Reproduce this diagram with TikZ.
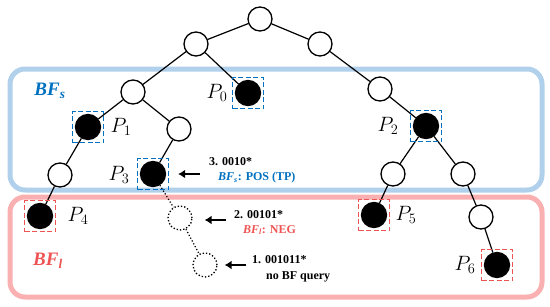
\documentclass[tikz,border=0pt]{standalone}
\usepackage{amsmath}
\usepackage{fontspec}
\setmainfont{Liberation Serif}
\usetikzlibrary{arrows.meta}

\begin{document}
\begin{tikzpicture}[x=1pt,y=-1pt,
 vtx/.style={circle,draw,line width=1.3pt,minimum size=24pt,inner sep=0pt,fill=white},
 leaf/.style={vtx,fill=black,minimum size=25pt},
 ghost/.style={vtx,dotted},
 hit/.style={draw=#1,line width=1.4pt,dash pattern=on 5pt off 2.5pt,
  minimum width=31pt,minimum height=31pt,inner sep=0pt},
 plab/.style={font=\fontsize{22}{22}\selectfont},
 bflab/.style={font=\fontsize{19}{19}\selectfont\bfseries\itshape},
 qtxt/.style={anchor=west,font=\fontsize{12}{12}\selectfont\bfseries,inner sep=0pt},
 qarrow/.style={-{Latex[length=7pt,width=9pt]},line width=2.5pt}]
\definecolor{bfsline}{RGB}{176,208,236}
\definecolor{bflline}{RGB}{250,176,176}
\definecolor{bfsblue}{RGB}{0,112,192}
\definecolor{bflred}{RGB}{238,84,84}
\useasboundingbox (0,0) rectangle (550,306);
% the two filter regions
\draw[bfsline,line width=5pt,rounded corners=15pt] (10,69) rectangle (542,190);
\draw[bflline,line width=5pt,rounded corners=15pt] (10,197) rectangle (542,297);
\node[bflab,text=bfsblue] (bfs) at (50,91) {BF\textsubscript{s}};
\node[bflab,text=bflred] (bfl) at (48,261) {BF\textsubscript{l}};

% tree
\node[vtx] (root) at (260,19) {};
\node[vtx] (l) at (196,44) {};
\node[vtx] (r) at (320,44) {};
\node[vtx] (ll) at (133,92) {};
\node[leaf] (p0) at (248,93) {};
\node[leaf] (p1) at (88,127) {};
\node[vtx] (llr) at (179,129) {};
\node[leaf] (p3) at (153,174) {};
\node[vtx] (p1c) at (60,175) {};
\node[leaf] (p4) at (40,216) {};
\node[vtx] (rr) at (380,89) {};
\node[leaf] (p2) at (426,126) {};
\node[vtx] (p2l) at (393,174) {};
\node[vtx] (p2r) at (463,174) {};
\node[leaf] (p5) at (374,215) {};
\node[vtx] (p2rc) at (481,217) {};
\node[leaf] (p6) at (497,265) {};
\node[ghost] (q1) at (180,218) {};
\node[ghost] (q2) at (205,265) {};
\draw[line width=1.2pt] (root) -- (l) (root) -- (r)
 (l) -- (ll) (l) -- (p0) (ll) -- (p1) (ll) -- (llr)
 (llr) -- (p3) (p1) -- (p1c) (p1c) -- (p4)
 (r) -- (rr) (rr) -- (p2) (p2) -- (p2l) (p2) -- (p2r)
 (p2l) -- (p5) (p2r) -- (p2rc) (p2rc) -- (p6);
\draw[line width=1.2pt,dotted] (p3) -- (q1) -- (q2);

% dashed marks on the leaves
\node[hit=bfsblue] (p0b) at (p0) {};
\node[hit=bfsblue] (p1b) at (p1) {};
\node[hit=bfsblue] (p2b) at (p2) {};
\node[hit=bfsblue] (p3b) at (p3) {};
\node[hit=bflred] (p4b) at (p4) {};
\node[hit=bflred] (p5b) at (p5) {};
\node[hit=bflred] (p6b) at (p6) {};
\node[plab] (lp0) at (217,93) {$P_0$};
\node[plab] (lp1) at (121,127) {$P_1$};
\node[plab] (lp2) at (388,126) {$P_2$};
\node[plab] (lp3) at (119,175) {$P_3$};
\node[plab] (lp4) at (78,216) {$P_4$};
\node[plab] (lp5) at (406,215) {$P_5$};
\node[plab] (lp6) at (465,265) {$P_6$};

% query steps
\node[qtxt] (t3) at (209,162) {3. 0010*};
\node[qtxt,text=bfsblue] (t3b) at (218,178) {\textit{BF\textsubscript{s}}: POS (TP)};
\node[qtxt] (t2) at (234,215) {2. 00101*};
\node[qtxt,text=bflred] (t2b) at (243,230) {\textit{BF\textsubscript{l}}: NEG};
\node[qtxt] (t1) at (252,260) {1. 001011*};
\node[qtxt] (t1b) at (266,277) {no BF query};
\coordinate (e3) at ([xshift=9pt]p3b.east);
\coordinate (e2) at ([xshift=12pt,yshift=-2pt]q1.east);
\coordinate (e1) at ([xshift=7pt]q2.east);
\draw[qarrow] (e3) ++(22,0) -- (e3);
\draw[qarrow] (e2) ++(21,0) -- (e2);
\draw[qarrow] (e1) ++(21,0) -- (e1);
\end{tikzpicture}
\end{document}
